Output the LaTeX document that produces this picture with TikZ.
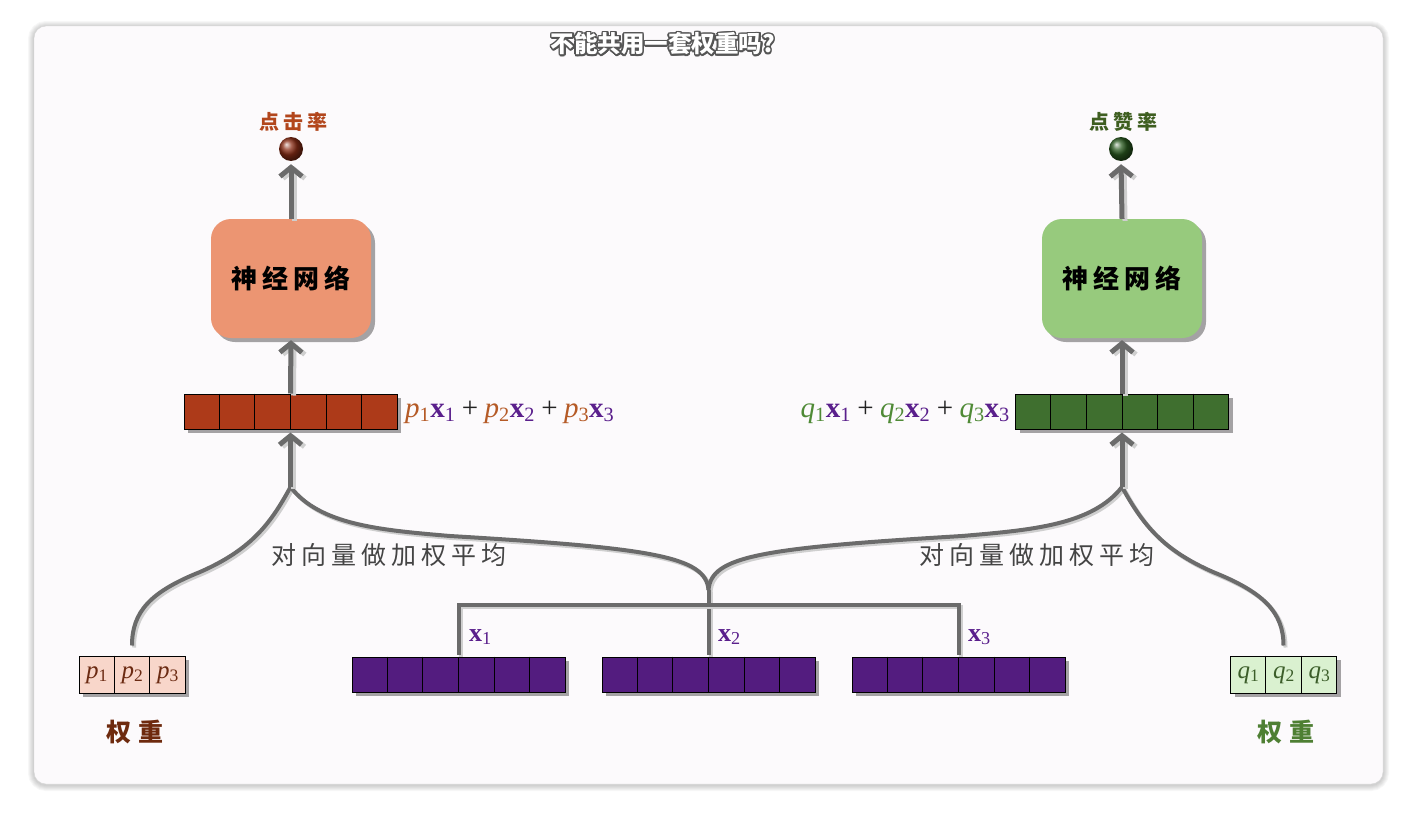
\documentclass[tikz,border=0pt]{standalone}
\usepackage{fontspec}
\usetikzlibrary{arrows.meta,shadows,calc}
\newfontfamily\cjk{Noto Sans CJK SC}
\newfontfamily\cjksp{Noto Sans CJK SC}[LetterSpace=20]
\newfontfamily\cjkwide{Noto Sans CJK SC}[LetterSpace=26]
\newfontfamily\mserif{Liberation Serif}
\definecolor{cardfill}{HTML}{FCFAFC}
\definecolor{cardline}{HTML}{D6D6D6}
\definecolor{lg}{HTML}{6B6B6B}
\definecolor{lgs}{HTML}{CFCFCF}
\definecolor{nnl}{HTML}{EC9572}
\definecolor{nnr}{HTML}{97CA7D}
\definecolor{vecl}{HTML}{AD3A19}
\definecolor{vecr}{HTML}{3F6F2F}
\definecolor{vecp}{HTML}{531C7F}
\definecolor{pboxc}{HTML}{F8D6CA}
\definecolor{qboxc}{HTML}{DAF1D0}
\definecolor{ctrc}{HTML}{B2461C}
\definecolor{likec}{HTML}{3E5E20}
\definecolor{pc}{HTML}{B55A26}
\definecolor{qc}{HTML}{4F8A36}
\definecolor{xc}{HTML}{5A1F8C}
\definecolor{pin}{HTML}{6B2A12}
\definecolor{qin}{HTML}{3C5E2A}
\definecolor{wl}{HTML}{6E2A0E}
\definecolor{wr}{HTML}{4E7F33}
\definecolor{avgc}{HTML}{444444}
\definecolor{tgray}{HTML}{555555}
\definecolor{plusc}{HTML}{222222}
\definecolor{ballb}{HTML}{8B2E16}
\definecolor{ballg}{HTML}{2A5A20}
\newcommand\vecbox[4]{%
  \node (#1) [vecnode, fill=#4] at (#2,#3) {};
  \foreach \i in {1,...,5}
    \draw[line width=1pt] ($(#1.north west)!\i/6!(#1.north east)$) -- ($(#1.south west)!\i/6!(#1.south east)$);}
\newcommand\wtv[3]{\textcolor{#1}{\textit{#2}\textsubscript{#3}}}
\newcommand\xvv[1]{\textcolor{xc}{\textbf{x}\textsubscript{#1}}}
\newcommand\plusv{\hspace{0.22em}\textcolor{plusc}{+}\hspace{0.22em}}
\begin{document}
\begin{tikzpicture}[x=1pt,y=-1pt,
  conn/.style={draw=lg, line width=4pt,
    preaction={draw=lgs, line width=4pt, transform canvas={xshift=2pt,yshift=-2pt}}},
  uparrow/.style={draw=lg, line width=5pt, -{Straight Barb[length=9pt,width=22pt]},
    preaction={draw=lgs, line width=5pt, -{Straight Barb[length=9pt,width=22pt]}, transform canvas={xshift=3pt,yshift=-2pt}}},
  vecnode/.style={draw=black, line width=1pt, minimum width=213pt, minimum height=35pt, inner sep=0pt,
    drop shadow={shadow xshift=4pt, shadow yshift=-4pt, opacity=0.35, fill=black}},
  wbox/.style={draw=black, line width=1pt, minimum width=106pt, minimum height=37pt, inner sep=0pt,
    drop shadow={shadow xshift=4pt, shadow yshift=-4pt, opacity=0.35, fill=black}},
  nnbox/.style={rounded corners=20pt, minimum width=160pt, minimum height=119pt, inner sep=0pt,
    font=\cjksp\bfseries\fontsize{26}{30}\selectfont, text=black,
    drop shadow={shadow xshift=4pt, shadow yshift=-4pt, opacity=0.35, fill=black}},
  ball/.style={circle, minimum size=24pt, inner sep=0pt},
  toplab/.style={font=\cjksp\bfseries\fontsize{20}{24}\selectfont},
  avg/.style={font=\cjksp\fontsize{25}{29}\selectfont, text=avgc},
  wlab/.style={font=\cjkwide\bfseries\fontsize{25}{29}\selectfont},
  mathlab/.style={font=\mserif\fontsize{29}{33}\selectfont, inner sep=0pt},
  cell/.style={font=\mserif\fontsize{25}{29}\selectfont, inner sep=0pt},
  xlab/.style={font=\mserif\fontsize{26}{30}\selectfont, text=xc, inner sep=0pt},
  titletxt/.style={font=\cjk\bfseries\fontsize{23.5}{27}\selectfont, inner sep=0pt}
]
\useasboundingbox (0,0) rectangle (1417,827);
\fill[white] (0,0) rectangle (1417,827);
% card with soft shadow
\foreach \s in {1,...,6}
  \draw[black, opacity=0.03, line width=\s*2pt, rounded corners=12pt] (34,27) rectangle (1383,785);
\node (card) [draw=cardline, fill=cardfill, rounded corners=12pt, minimum width=1349pt, minimum height=758pt, inner sep=0pt] at (708.5,405) {};
% title
\coordinate (tpos) at (663,44);
\foreach \a in {0,22.5,...,337.5}
  \node[titletxt, text=tgray] at ($(tpos)+(\a:1.5)$) {不能共用一套权重吗?};
\node (title) [titletxt, text=white] at (tpos) {不能共用一套权重吗?};

% left tower
\node (ctrL) [toplab, text=ctrc] at (293,122) {点击率};
\node (ballL) [ball, ball color=ballb] at (291,149) {};
\node (nnL) [nnbox, fill=nnl] at (291,278.5) {神经网络};
\vecbox{vecL}{290.5}{411.5}{vecl}
\node (plab) [mathlab, anchor=west] at (405,412) {\wtv{pc}{p}{1}\xvv{1}\plusv\wtv{pc}{p}{2}\xvv{2}\plusv\wtv{pc}{p}{3}\xvv{3}};

% right tower
\node (ctrR) [toplab, text=likec] at (1123,122) {点赞率};
\node (ballR) [ball, ball color=ballg] at (1121,149) {};
\node (nnR) [nnbox, fill=nnr] at (1122,278.5) {神经网络};
\vecbox{vecR}{1122}{411.5}{vecr}
\node (qlab) [mathlab, anchor=east] at (1010,412) {\wtv{qc}{q}{1}\xvv{1}\plusv\wtv{qc}{q}{2}\xvv{2}\plusv\wtv{qc}{q}{3}\xvv{3}};

% bottom vectors
\vecbox{vx1}{458.5}{674.5}{vecp}
\vecbox{vx2}{708.5}{674.5}{vecp}
\vecbox{vx3}{958.5}{674.5}{vecp}
\node (lx1) [xlab, anchor=west] at (469,637) {\textbf{x}\textsubscript{1}};
\node (lx2) [xlab, anchor=west] at (718,637) {\textbf{x}\textsubscript{2}};
\node (lx3) [xlab, anchor=west] at (968,637) {\textbf{x}\textsubscript{3}};

% weight boxes
\node (pb) [wbox, fill=pboxc] at (132,674.5) {};
\draw[line width=1pt] ($(pb.north west)!1/3!(pb.north east)$) -- ($(pb.south west)!1/3!(pb.south east)$);
\draw[line width=1pt] ($(pb.north west)!2/3!(pb.north east)$) -- ($(pb.south west)!2/3!(pb.south east)$);
\node (p1) [cell, text=pin] at (97,675) {\textit{p}\textsubscript{1}};
\node (p2) [cell, text=pin] at (132.5,675) {\textit{p}\textsubscript{2}};
\node (p3) [cell, text=pin] at (168,675) {\textit{p}\textsubscript{3}};
\node (wL) [wlab, text=wl] at (135,732) {权重};

\node (qb) [wbox, fill=qboxc] at (1283.5,674.5) {};
\draw[line width=1pt] ($(qb.north west)!1/3!(qb.north east)$) -- ($(qb.south west)!1/3!(qb.south east)$);
\draw[line width=1pt] ($(qb.north west)!2/3!(qb.north east)$) -- ($(qb.south west)!2/3!(qb.south east)$);
\node (q1) [cell, text=qin] at (1248.5,675) {\textit{q}\textsubscript{1}};
\node (q2) [cell, text=qin] at (1284,675) {\textit{q}\textsubscript{2}};
\node (q3) [cell, text=qin] at (1319.5,675) {\textit{q}\textsubscript{3}};
\node (wR) [wlab, text=wr] at (1286,732) {权重};

% averaging labels
\node (avgL) [avg] at (389,555) {对向量做加权平均};
\node (avgR) [avg] at (1037,555) {对向量做加权平均};

% connectors
\coordinate (bpL) at (290.5,487);
\coordinate (bpR) at (1122,487);
\coordinate (mrg) at (708.5,590);
\coordinate (brk) at (708.5,605);

\draw[conn, shorten >=10pt] (bpL) .. controls (270,525) and (250,550) .. (200,572) .. controls (150,592) and (132,612) .. (pb.north);
\draw[conn] (bpL) .. controls (320,525) and (380,530) .. (450,536) .. controls (650,548) and (706,556) .. (mrg);
\draw[conn] (bpR) .. controls (1092,525) and (1032,530) .. (962,536) .. controls (762,548) and (711,556) .. (mrg);
\draw[conn, shorten >=10pt] (bpR) .. controls (1143,525) and (1163,550) .. (1213,572) .. controls (1263,592) and (1283.5,612) .. (qb.north);
\draw[conn] ([yshift=2pt]vx2.north) -- (mrg);
\draw[conn] ([yshift=2pt]vx1.north) |- (brk) -| ([yshift=2pt]vx3.north);

\draw[uparrow, shorten >=3pt] (bpL) -- (vecL.south);
\draw[uparrow, shorten >=2pt] (vecL.north) -- (nnL.south);
\draw[uparrow, shorten >=3pt] (nnL.north) -- (ballL.south);
\draw[uparrow, shorten >=3pt] (bpR) -- (vecR.south);
\draw[uparrow, shorten >=2pt] (vecR.north) -- (nnR.south);
\draw[uparrow, shorten >=3pt] (nnR.north) -- (ballR.south);
\end{tikzpicture}
\end{document}
